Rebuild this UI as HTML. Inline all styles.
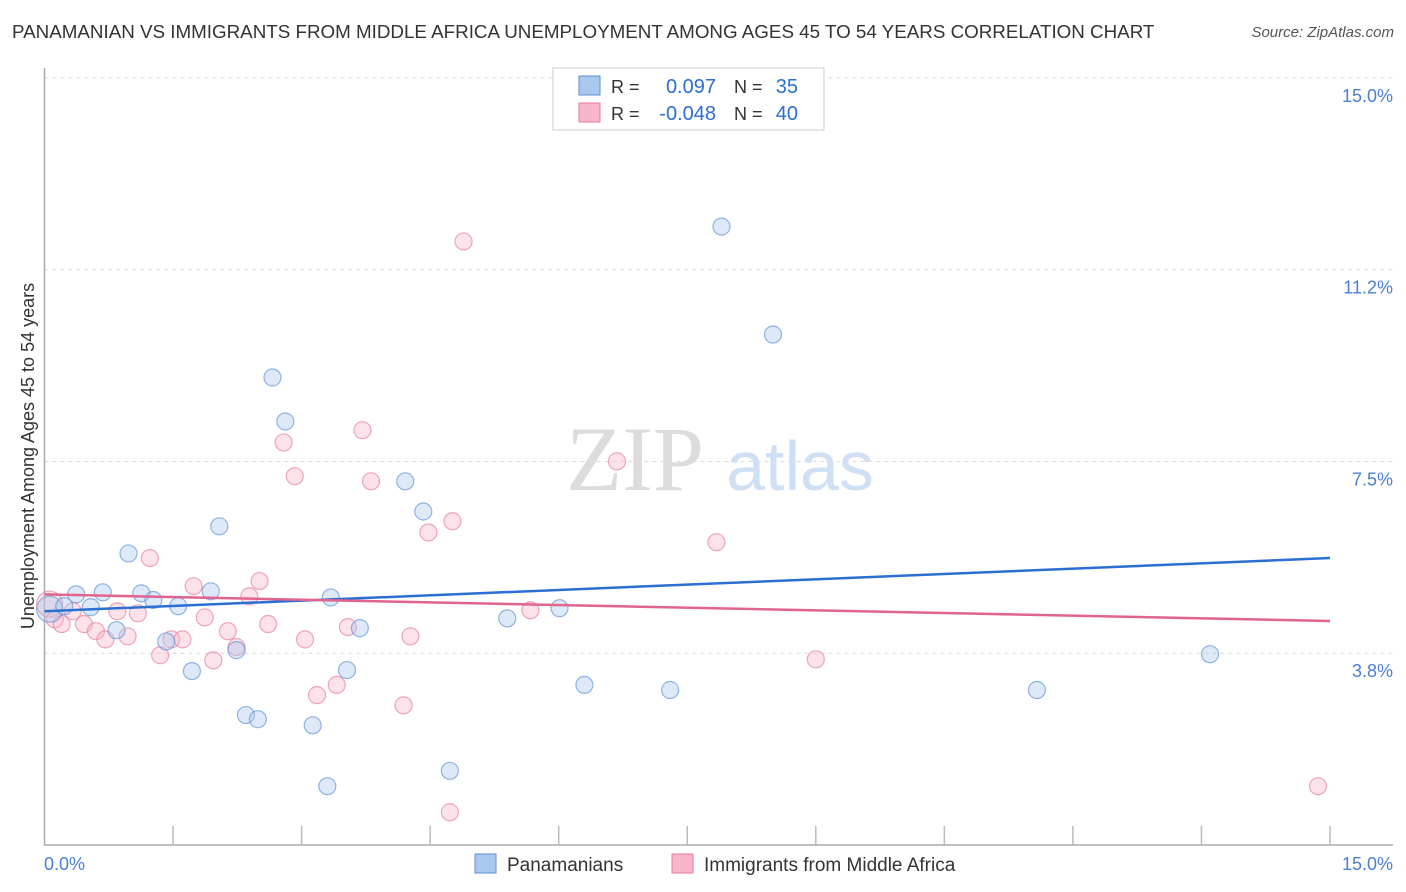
<!DOCTYPE html>
<html><head><meta charset="utf-8">
<style>
body{margin:0;background:#fff;font-family:"Liberation Sans",sans-serif;}
#wrap{position:relative;width:1406px;height:892px;overflow:hidden;}
.title{position:absolute;left:12px;top:21px;font-size:18.8px;color:#333;white-space:nowrap;}
.source{position:absolute;right:12px;top:24px;font-size:15px;color:#555;font-style:italic;}
</style></head>
<body>
<div id="wrap">
<div class="title">PANAMANIAN VS IMMIGRANTS FROM MIDDLE AFRICA UNEMPLOYMENT AMONG AGES 45 TO 54 YEARS CORRELATION CHART</div>
<div class="source">Source: ZipAtlas.com</div>
<svg id="svg" width="1406" height="892" style="position:absolute;left:0;top:0"></svg>
</div>
<script>
const blueX=[0.06,0.23,0.37,0.54,0.68,0.84,0.98,1.13,1.27,1.42,1.56,1.72,1.94,2.04,2.24,2.35,2.49,2.66,2.81,3.13,3.30,3.34,3.53,3.68,4.21,4.42,4.73,5.40,6.01,6.30,7.30,7.90,8.50,11.58,13.60];
const blueY=[4.61,4.67,4.90,4.65,4.94,4.20,5.70,4.92,4.79,3.98,4.67,3.40,4.96,6.23,3.81,2.54,2.46,9.14,8.28,2.34,1.15,4.84,3.42,4.24,7.11,6.52,1.45,4.43,4.63,3.13,3.03,12.09,9.98,3.03,3.73];
const pinkX=[0.06,0.12,0.20,0.33,0.46,0.60,0.71,0.85,0.97,1.09,1.23,1.35,1.48,1.61,1.74,1.87,1.97,2.14,2.24,2.39,2.51,2.61,2.79,2.92,3.04,3.18,3.41,3.54,3.71,3.81,4.19,4.27,4.48,4.73,4.76,4.89,5.67,6.68,7.84,9.00,14.86];
const pinkY=[4.71,4.41,4.32,4.57,4.32,4.18,4.02,4.57,4.08,4.53,5.61,3.71,4.02,4.02,5.06,4.45,3.61,4.18,3.87,4.86,5.16,4.32,7.87,7.21,4.02,2.93,3.13,4.26,8.11,7.11,2.73,4.08,6.11,0.64,6.33,11.80,4.59,7.50,5.92,3.63,1.15];
const blueTrend=[4.57,5.61];
const pinkTrend=[4.90,4.38];
const yTicks=[3.75,7.5,11.25,15];
const yTickLabels=["3.8%","7.5%","11.2%","15.0%"];
const xTicks=[1.5,3,4.5,6,7.5,9,10.5,12,13.5,15];

const svg=document.getElementById('svg');
const NS='http://www.w3.org/2000/svg';
const X=v=>44.5+v*85.7;
const Y=v=>845-v*51.15;
function mk(t,a,p){const e=document.createElementNS(NS,t);for(const k in a)e.setAttribute(k,a[k]);(p||svg).appendChild(e);return e;}

yTicks.forEach((t,i)=>{
  const g=mk('line',{x1:44.5,x2:1393,y1:Y(t),y2:Y(t),stroke:'#d8d8d8','stroke-dasharray':'4,4'});
  
  
  const l=mk('text',{x:1393,y:Y(t)+24,'text-anchor':'end','font-size':18,fill:'#4a7fd4','font-family':'Liberation Sans'});
  l.textContent=yTickLabels[i];
  
  
});
xTicks.forEach(t=>{
  const k=mk('line',{x1:X(t),x2:X(t),y1:826,y2:845,stroke:'#bbb','stroke-width':1.5});
  
  
});
const ax=mk('path',{d:'M44.5 68 V845 H1393',fill:'none',stroke:'#aaa','stroke-width':1.5});



const w1=mk('text',{x:635,y:490,'font-size':92,fill:'#dcdcdc','font-family':'Liberation Serif','text-anchor':'middle'});
w1.textContent='ZIP';


const w2=mk('text',{x:800,y:490,'font-size':70,fill:'#cfe0f4','font-family':'Liberation Sans','text-anchor':'middle'});
w2.textContent='atlas';



function dots(xs,ys,fill,stroke,name){
  xs.forEach((x,i)=>{
    const c=mk('circle',{cx:X(x),cy:Y(ys[i]),r:i===0?13:8.5,fill:fill,'fill-opacity':0.4,stroke:stroke,'stroke-opacity':0.65,'stroke-width':1.2});
    
    
  });
}
dots(pinkX,pinkY,'#f7b6c9','#e87a9c','pink-point');
dots(blueX,blueY,'#aac8ee','#5b8fd6','blue-point');

const bt=mk('line',{x1:X(0),x2:X(15),y1:Y(blueTrend[0]),y2:Y(blueTrend[1]),stroke:'#2a6fd1','stroke-width':2.5});


const pt=mk('line',{x1:X(0),x2:X(15),y1:Y(pinkTrend[0]),y2:Y(pinkTrend[1]),stroke:'#e0648e','stroke-width':2.5});



function txt(x,y,s,size,fill,anchor,name){const t=mk('text',{x:x,y:y,'font-size':size,fill:fill,'font-family':'Liberation Sans','text-anchor':anchor||'start'});t.textContent=s;

return t;}
txt(44,870,'0.0%',18,'#4a7fd4','start','x-min-label');
txt(1393,870,'15.0%',18,'#4a7fd4','end','x-max-label');
const yt=txt(0,0,'Unemployment Among Ages 45 to 54 years',18,'#333','middle','y-axis-title');
yt.setAttribute('transform','translate(34,456) rotate(-90)');

const lb=mk('rect',{x:553,y:68,width:271,height:62,fill:'#fff',stroke:'#ccc'});


const s1=mk('rect',{x:579,y:76,width:21,height:19,fill:'#aac8ee',stroke:'#5b8fd6'});


const s2=mk('rect',{x:579,y:103,width:21,height:19,fill:'#f7b6c9',stroke:'#e87a9c'});


txt(611,93,'R =',18,'#333','start','legend-r-label');
txt(716,93,'0.097',20,'#2a6fd1','end','legend-r-blue');
txt(734,93,'N =',18,'#333','start','legend-n-label');
txt(798,93,'35',20,'#2a6fd1','end','legend-n-blue');
txt(611,120,'R =',18,'#333','start','legend-r-label');
txt(716,120,'-0.048',20,'#2a6fd1','end','legend-r-pink');
txt(734,120,'N =',18,'#333','start','legend-n-label');
txt(798,120,'40',20,'#2a6fd1','end','legend-n-pink');

const b1=mk('rect',{x:475,y:854,width:21,height:19,fill:'#aac8ee',stroke:'#5b8fd6'});


txt(507,871,'Panamanians',19,'#333','start','legend-label-panamanians');
const b2=mk('rect',{x:672,y:854,width:21,height:19,fill:'#f7b6c9',stroke:'#e87a9c'});


txt(704,871,'Immigrants from Middle Africa',19,'#333','start','legend-label-middle-africa');
</script>
</body></html>
